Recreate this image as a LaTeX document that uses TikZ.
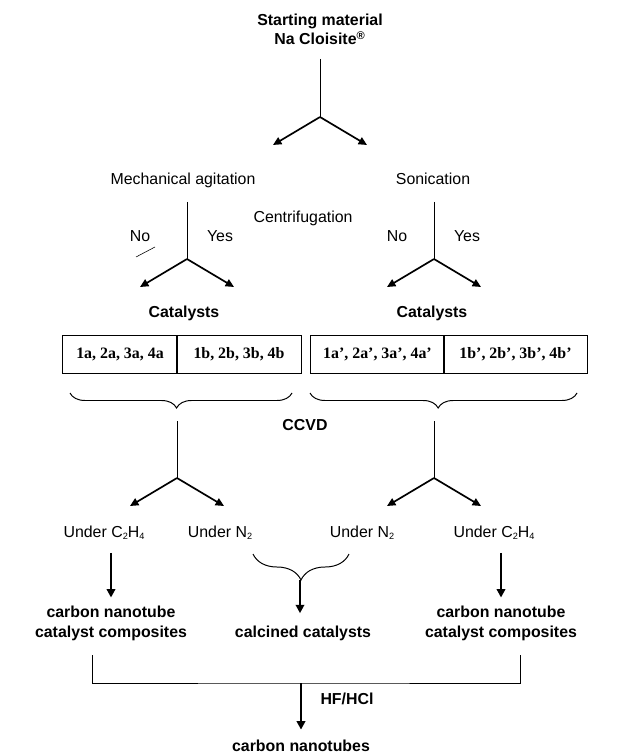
\documentclass[tikz,border=0pt]{standalone}
\usepackage{fontspec}
\setmainfont{Liberation Sans}
\newfontfamily\cellfont{Liberation Serif}
\usetikzlibrary{positioning, arrows.meta, decorations.pathreplacing}
\newcommand\lowidx[1]{\raisebox{-0.3ex}{\fontsize{6.5}{7}\selectfont #1}}

\begin{document}
\begin{tikzpicture}[
    x=0.025cm, y=-0.025cm,
    txt/.style={inner sep=0pt, anchor=base, align=center,
      font=\fontsize{11.3}{14}\selectfont},
    bold/.style={txt, font=\fontsize{11.3}{14}\selectfont\bfseries},
    cell/.style={draw, line width=0.7pt, minimum height=0.95cm, inner sep=0pt,
      font=\cellfont\fontsize{11.3}{14}\selectfont\bfseries},
    stem/.style={line width=0.7pt},
    fork/.style={-{Triangle[length=6pt, width=5.5pt]}, line width=1.2pt},
    bigarrow/.style={-{Triangle[length=6pt, width=6pt]}, line width=1.9pt},
    brace/.style={decorate, line width=0.7pt,
      decoration={brace, mirror, amplitude=0.375cm, aspect=0.48}},
]
    \useasboundingbox (0,0) rectangle (627,753);

    % Starting material
    \node[bold] (start) at (320,45) {Starting material\\Na Cloisite\textsuperscript{\textregistered}};

    % Y splits
    \foreach \f/\x/\t/\b in {top/320/59/117, mechY/187/202/259, sonicY/434/202/259,
                             cvdL/177/421/478, cvdR/434/421/478} {
      \coordinate (\f-in) at (\x,\t);
      \coordinate (\f-fork) at (\x,\b);
      \coordinate (\f-left) at (\x-47,\b+28);
      \coordinate (\f-right) at (\x+47,\b+28);
      \draw[stem] (\f-in) -- (\f-fork);
      \draw[fork] (\f-fork) -- (\f-left);
      \draw[fork] (\f-fork) -- (\f-right);
    }

    % Dispersion
    \node[txt] (mech) at (183,185) {Mechanical agitation};
    \node[txt] (sonic) at (433,185) {Sonication};
    \node[txt] (centri) at (303,223) {Centrifugation};
    \node[txt] (noL) at (140,242) {No};
    \node[txt] (yesL) at (220,242) {Yes};
    \node[txt] (noR) at (397,242) {No};
    \node[txt] (yesR) at (467,242) {Yes};
    \draw[line width=0.4pt] (136,257) -- (155,247);

    % Catalysts
    \node[bold] (catL) at (184,318) {Catalysts};
    \node[bold] (catR) at (432,318) {Catalysts};
    \node[cell, minimum width=2.85cm] (cellLa) at (120,354) {1a, 2a, 3a, 4a};
    \node[cell, minimum width=3.1cm] (cellLb) at (239,354) {1b, 2b, 3b, 4b};
    \node[cell, minimum width=3.325cm] (cellRa) at (377.5,354) {1a’, 2a’, 3a’, 4a’};
    \node[cell, minimum width=3.575cm] (cellRb) at (515.5,354) {1b’, 2b’, 3b’, 4b’};

    % CCVD
    \draw[brace] (70,393) -- (292,393);
    \draw[brace] (310,393) -- (577,393);
    \node[bold] (ccvd) at (305,430) {CCVD};

    % Atmospheres
    \node[txt] (ethL) at (104,537) {Under C\lowidx{2}H\lowidx{4}};
    \node[txt] (nitL) at (220,537) {Under N\lowidx{2}};
    \node[txt] (nitR) at (362,537) {Under N\lowidx{2}};
    \node[txt] (ethR) at (494,537) {Under C\lowidx{2}H\lowidx{4}};

    % Products
    \node[bold] (compL) at (111,637) {carbon nanotube\\catalyst composites};
    \node[bold] (calc) at (303,637) {calcined catalysts};
    \node[bold] (compR) at (501,637) {carbon nanotube\\catalyst composites};

    \draw[bigarrow, shorten <=0.325cm, shorten >=0.2cm] (ethL.south -| compL.north) -- (compL.north);
    \draw[bigarrow, shorten <=0.325cm, shorten >=0.2cm] (ethR.south -| compR.north) -- (compR.north);
    \draw[brace, decoration={amplitude=0.65cm, aspect=0.5}] (253,554) -- (349,554);
    \coordinate (nbr) at (300,580);
    \draw[bigarrow, shorten >=0.3cm] (nbr) -- (nbr |- calc.north);

    % Acid wash
    \coordinate (brL) at (92,655);
    \coordinate (brR) at (520,655);
    \coordinate (join) at (301,683);
    \draw[stem] (brL) |- (join) -| (brR);
    \node[bold] (hf) at (347,704) {HF/HCl};
    \node[bold] (cnt) at (301,751) {carbon nanotubes};
    \draw[bigarrow, shorten >=0.24cm] (join) -- (join |- cnt.north);
\end{tikzpicture}
\end{document}
